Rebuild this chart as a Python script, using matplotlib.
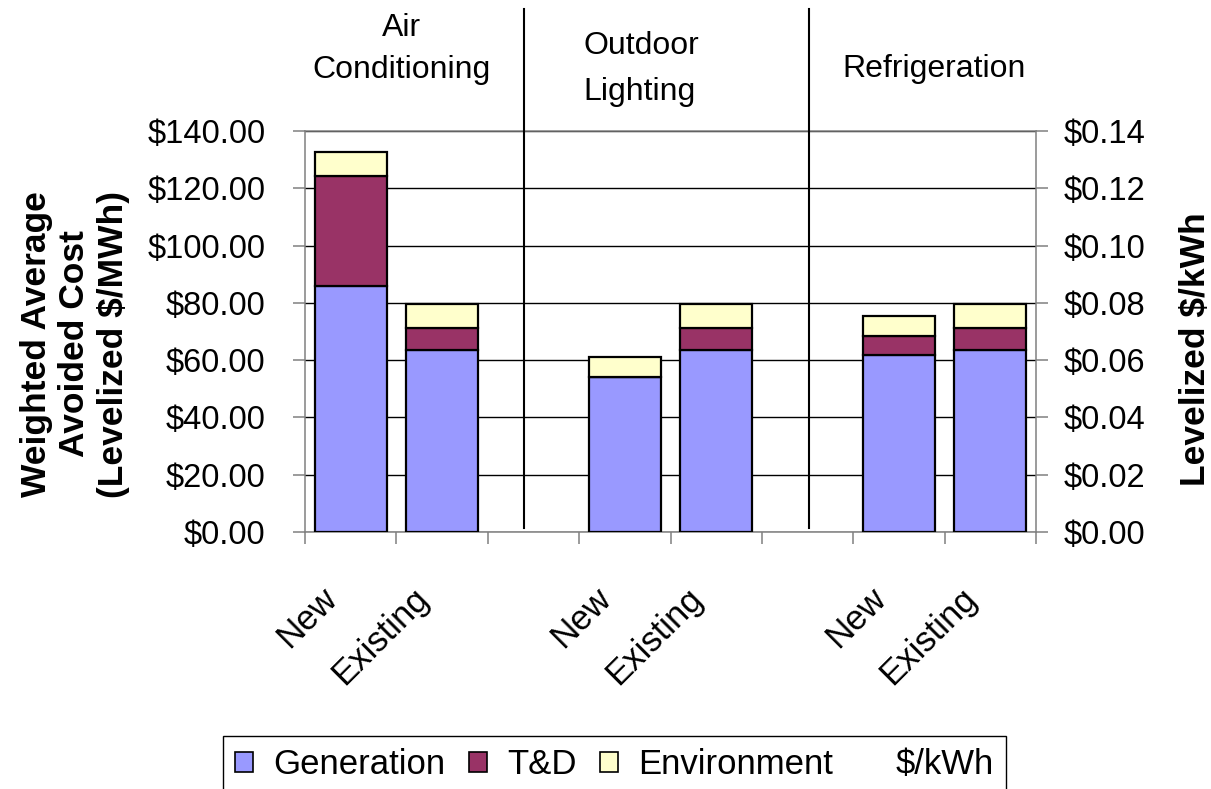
import matplotlib
matplotlib.use("Agg")
import matplotlib.pyplot as plt
from matplotlib.transforms import blended_transform_factory
from matplotlib.ticker import FuncFormatter, MultipleLocator

plt.rcParams["font.family"] = ["Liberation Sans", "DejaVu Sans"]

# End uses and the two building vintages shown for each
end_uses = ["Air", "Conditioning", "Outdoor", "Lighting", "Refrigeration"]
bar_labels = ["New", "Existing", "New", "Existing", "New", "Existing"]
bar_slots = [0, 1, 3, 4, 6, 7]          # category slots; 2 and 5 are gaps

# Levelized avoided cost components ($/MWh)
generation = [86.0, 63.4, 54.0, 63.4, 61.7, 63.4]
t_and_d = [38.2, 7.7, 0.0, 7.7, 6.6, 7.7]
environment = [8.6, 8.5, 7.2, 8.5, 7.1, 8.5]

series_names = ["Generation", "T&D", "Environment"]
series_colors = ["#9999FF", "#993366", "#FFFFCC"]

W, H = 1211, 789
fig = plt.figure(figsize=(W / 100, H / 100), dpi=100)
ax = fig.add_axes([305 / W, 1 - 532 / H, 731 / W, 401 / H])

bottoms = [0.0] * len(generation)
for name, vals, col in zip(series_names, [generation, t_and_d, environment], series_colors):
    ax.bar(bar_slots, vals, width=0.79, bottom=bottoms, color=col,
           edgecolor="black", linewidth=1.6, label=name, zorder=3)
    bottoms = [b + v for b, v in zip(bottoms, vals)]

ax.set_xlim(-0.5, 7.5)
ax.set_ylim(0, 140)
ax.yaxis.set_major_locator(MultipleLocator(20))
ax.yaxis.set_major_formatter(FuncFormatter(lambda v, p: f"${v:.2f}"))
ax.grid(axis="y", color="black", linewidth=1.0, zorder=0)
ax.set_axisbelow(True)

ax.set_xticks([i - 0.5 for i in range(9)])
ax.set_xticklabels([])
ax.tick_params(axis="x", length=8.6, width=1.1, color="#808080", direction="out")
ax.tick_params(axis="y", length=8.6, width=1.1, color="#808080", direction="out",
               labelsize=23.5, pad=20)
for s in ax.spines.values():
    s.set_color("#808080")
    s.set_linewidth(1.1)

# Rotated bar labels below the axis
lab_tf = blended_transform_factory(ax.transData, ax.transAxes)
for x, lab in zip(bar_slots, bar_labels):
    ax.text(x - 0.13, -0.17, lab, transform=lab_tf, rotation=45,
            rotation_mode="anchor", ha="right", va="baseline", fontsize=25)

# Vertical separators between end-use groups
for xs in [1.9, 5.02]:
    ax.plot([xs, xs], [0.01, 1.3035], transform=lab_tf, color="black",
            linewidth=1.5, clip_on=False, zorder=4)

# Group headings
heading_pos = [(402, 36), (402, 78), (641, 54), (640, 100), (934, 77)]
for txt, (px, py) in zip(end_uses, heading_pos):
    fig.text(px / W, 1 - py / H, txt, ha="center", va="baseline", fontsize=23)

# Secondary axis in $/kWh
ax2 = ax.twinx()
ax2.set_ylim(0, 0.14)
ax2.yaxis.set_major_locator(MultipleLocator(0.02))
ax2.yaxis.set_major_formatter(FuncFormatter(lambda v, p: f"${v:.2f}"))
ax2.tick_params(axis="y", length=8.6, width=1.1, color="#808080", direction="out",
                labelsize=23.5, pad=11)
for s in ax2.spines.values():
    s.set_visible(False)
ax2.plot([], [], linestyle="none", label="$/kWh")

fig.text(75 / W, 1 - 344 / H, "Weighted Average\nAvoided Cost\n(Levelized $/MWh)",
         rotation=90, ha="center", va="center", multialignment="center",
         fontsize=25.5, fontweight="bold")
fig.text(1195 / W, 1 - 349 / H, "Levelized $/kWh", rotation=90, ha="center",
         va="center", fontsize=25.5, fontweight="bold")

h1, l1 = ax.get_legend_handles_labels()
h2, l2 = ax2.get_legend_handles_labels()
leg = fig.legend(h1 + h2, l1 + l2, loc="upper left",
                 bbox_to_anchor=(223 / W, 1 - 736 / H), bbox_transform=fig.transFigure,
                 borderaxespad=0, ncol=4, fontsize=25, handlelength=0.52,
                 handleheight=0.5, handletextpad=0.58, columnspacing=0.68,
                 borderpad=0.35, fancybox=False, framealpha=1, edgecolor="black")
leg.get_frame().set_linewidth(1.0)
for hnd in leg.legend_handles:
    if hasattr(hnd, "set_linewidth"):
        hnd.set_linewidth(1.2)

fig.savefig("out.png", dpi=100)
